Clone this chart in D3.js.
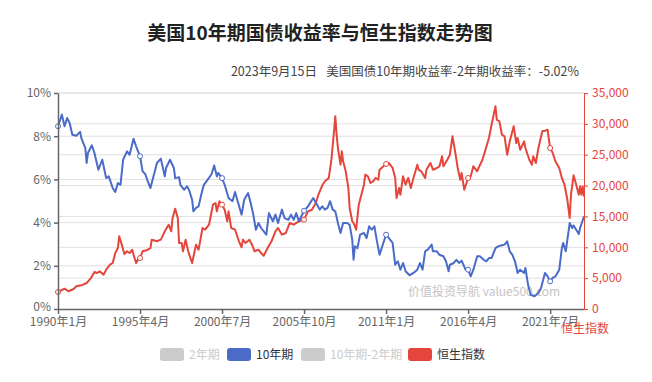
<!DOCTYPE html>
<meta charset="utf-8">
<head>
  <title>美国10年期国债收益率与恒生指数走势图</title>
  <script src="https://cdn.jsdelivr.net/npm/d3@7"></script>
  <style>
    body {
      margin: 0;
      background: #fff;
      font-family: "Noto Sans CJK SC", "Noto Sans", sans-serif;
    }
    .grid line { stroke: #e0e0e0; stroke-width: 1; }
    .axis text { font-size: 12px; font-family: "Noto Sans CJK SC", sans-serif; }
  </style>
</head>
<body>
<script>
  // x axis tick labels (every 63 months)
  var tickLabels = ["1990年1月", "1995年4月", "2000年7月", "2005年10月", "2011年1月", "2016年4月", "2021年7月"];

  // US 10y treasury yield (%)
  var tnxDates = ["1990-01","1990-04","1990-06","1990-08","1990-10","1990-12","1991-03","1991-06","1991-07","1991-10",
    "1991-11","1991-12","1992-03","1992-05","1992-08","1992-11","1993-02","1993-04","1993-07","1993-09",
    "1993-11","1994-01","1994-03","1994-06","1994-08","1994-11","1995-01","1995-04","1995-06","1995-08",
    "1995-10","1995-12","1996-02","1996-05","1996-08","1996-11","1996-12","1997-03","1997-06","1997-07",
    "1997-10","1997-11","1998-02","1998-04","1998-05","1998-06","1998-08","1998-09","1998-11","1999-01",
    "1999-03","1999-05","1999-08","1999-11","2000-01","2000-03","2000-04","2000-07","2000-09","2000-12",
    "2001-03","2001-05","2001-07","2001-10","2001-12","2002-03","2002-05","2002-07","2002-09","2002-11",
    "2003-01","2003-05","2003-07","2003-10","2003-12","2004-02","2004-05","2004-07","2004-10","2004-12",
    "2005-02","2005-04","2005-06","2005-10","2006-01","2006-05","2006-08","2006-10","2006-12","2007-02",
    "2007-04","2007-06","2007-08","2007-10","2007-12","2008-02","2008-04","2008-07","2008-09","2008-11",
    "2008-12","2009-01","2009-03","2009-05","2009-08","2009-10","2009-12","2010-02","2010-04","2010-06",
    "2010-08","2010-10","2011-01","2011-03","2011-06","2011-08","2011-10","2011-12","2012-02","2012-04",
    "2012-07","2012-10","2013-01","2013-03","2013-05","2013-07","2013-09","2013-12","2014-01","2014-04",
    "2014-06","2014-09","2014-11","2015-01","2015-02","2015-05","2015-07","2015-09","2015-11","2016-02",
    "2016-04","2016-06","2016-08","2016-11","2017-01","2017-04","2017-06","2017-08","2017-10","2018-01",
    "2018-03","2018-06","2018-08","2018-10","2018-12","2019-02","2019-04","2019-06","2019-08","2019-11",
    "2019-12","2020-02","2020-04","2020-07","2020-10","2020-12","2021-03","2021-05","2021-07","2021-09",
    "2021-11","2022-02","2022-04","2022-05","2022-07","2022-10","2022-12","2023-01","2023-03","2023-05",
    "2023-06","2023-09"];
  var tnxValues = [8.46,9.0,8.46,8.84,8.6,8.07,8.02,8.2,7.9,7.45,
    6.76,7.22,7.58,7.22,6.45,6.91,6.06,6.14,5.6,5.42,
    5.83,5.75,6.91,7.3,7.14,7.88,7.53,7.07,6.37,6.25,
    5.91,5.6,6.06,6.76,6.96,6.14,6.53,6.91,6.53,6.06,
    6.1,5.75,5.52,5.68,5.6,5.45,5.06,4.52,4.68,4.75,
    5.29,5.75,5.99,6.25,6.65,6.14,6.3,6.06,5.75,5.14,
    4.99,5.42,4.99,4.37,5.06,5.37,4.91,4.37,3.67,3.98,
    3.75,3.44,4.44,4.06,4.37,3.98,4.6,4.21,4.13,4.37,
    4.13,4.44,4.06,4.55,4.75,5.14,4.83,4.6,4.75,4.6,
    4.68,4.99,4.6,4.52,3.98,3.52,3.98,3.98,3.9,3.21,
    2.28,2.9,2.82,3.44,3.52,3.29,3.83,3.67,3.83,3.13,
    2.51,2.9,3.44,3.29,3.06,2.05,2.21,1.82,2.13,1.75,
    1.56,1.67,1.82,2.13,1.82,2.67,2.75,2.98,2.67,2.67,
    2.51,2.44,2.21,1.75,2.05,2.13,2.28,2.13,2.24,1.82,
    1.82,1.51,1.82,2.44,2.44,2.28,2.21,2.36,2.36,2.82,
    2.9,2.95,2.98,3.13,2.67,2.51,2.21,1.67,1.82,1.67,
    1.9,1.13,0.66,0.59,0.74,0.97,1.67,1.51,1.28,1.44,
    1.51,1.82,2.82,3.06,2.67,3.98,3.75,3.87,3.67,3.47,
    3.75,4.29];

  // Hang Seng index
  var hsiDates = ["1990-01","1990-06","1990-09","1991-01","1991-03","1991-07","1991-11","1992-02","1992-05","1992-07",
    "1992-09","1992-12","1993-02","1993-05","1993-07","1993-09","1993-11","1993-12","1994-02","1994-04",
    "1994-06","1994-08","1994-10","1994-11","1995-01","1995-03","1995-04","1995-06","1995-09","1995-12",
    "1996-01","1996-05","1996-08","1996-11","1997-02","1997-04","1997-05","1997-07","1997-09","1997-10",
    "1997-12","1998-01","1998-03","1998-05","1998-08","1998-11","1999-01","1999-04","1999-06","1999-09",
    "1999-12","2000-02","2000-03","2000-05","2000-07","2000-09","2000-11","2000-12","2001-02","2001-05",
    "2001-08","2001-10","2001-11","2002-01","2002-04","2002-06","2002-08","2002-11","2003-01","2003-03",
    "2003-06","2003-09","2003-12","2004-02","2004-05","2004-08","2004-11","2005-02","2005-06","2005-10",
    "2006-01","2006-04","2006-07","2006-09","2006-12","2007-02","2007-05","2007-07","2007-09","2007-10",
    "2007-11","2007-12","2008-02","2008-03","2008-04","2008-06","2008-08","2008-09","2008-11","2008-12",
    "2009-02","2009-04","2009-06","2009-08","2009-09","2009-11","2010-01","2010-03","2010-05","2010-07",
    "2010-08","2010-11","2011-01","2011-03","2011-06","2011-08","2011-09","2011-11","2011-12","2012-02",
    "2012-04","2012-06","2012-08","2012-10","2013-01","2013-02","2013-04","2013-07","2013-08","2013-11",
    "2014-01","2014-04","2014-06","2014-08","2014-09","2014-12","2015-02","2015-04","2015-06","2015-08",
    "2015-10","2015-11","2016-01","2016-04","2016-06","2016-08","2016-11","2016-12","2017-03","2017-05",
    "2017-08","2017-10","2018-01","2018-02","2018-04","2018-06","2018-08","2018-10","2018-12","2019-02",
    "2019-03","2019-05","2019-06","2019-08","2019-11","2019-12","2020-03","2020-05","2020-06","2020-08",
    "2020-10","2021-01","2021-03","2021-05","2021-07","2021-09","2021-11","2022-02","2022-04","2022-06",
    "2022-08","2022-10","2022-11","2023-01","2023-03","2023-05","2023-06","2023-07","2023-08","2023-09"];
  var hsiValues = [2755,3290,2870,3240,3670,3840,4210,4910,6000,5830,
    6110,5560,6370,7180,7450,9070,9880,11780,10420,8910,
    9350,9070,9610,8800,7450,8260,8260,9350,9510,9880,
    11230,10970,11230,12590,13660,12590,14750,16250,14750,10700,
    10700,9350,11230,9350,7450,10420,9610,13130,12850,13660,
    16900,17180,15830,17450,16900,16090,14210,15830,13130,12850,
    10970,10000,11230,10700,11230,10420,9350,9610,9070,8640,
    9880,10970,12590,13130,12040,12320,13940,13660,14210,14470,
    15830,16090,17180,18520,20040,20690,21230,24190,28790,31220,
    28240,26090,23380,25550,23930,22310,19610,16370,14210,13940,
    12850,16900,18520,20140,21760,21500,20420,20690,21230,20950,
    22570,23120,23500,23660,22850,21230,17990,19610,18520,21500,
    20140,21230,19610,21230,23380,22570,22310,21230,22570,23660,
    22570,22850,23120,24740,23120,24190,25000,27980,25550,22850,
    20950,22040,19330,21230,21500,23120,22310,22850,24190,25550,
    27710,29860,32840,30680,30410,28240,27980,25000,27170,28790,
    29600,26900,27710,25810,27170,26090,24190,23380,24740,23660,
    26090,28790,28890,29050,26090,25280,23930,22850,21230,20140,
    17990,14750,18520,21670,20140,18520,19880,18520,19880,18200];

  var legendNames = ["2年期", "10年期", "10年期-2年期", "恒生指数"];
  var legendColors = ["#cccccc", "#4b6bc8", "#cccccc", "#e4463c"];
  var legendActive = [false, true, false, true];

  var blue = "#4b6bc8", red = "#e4463c";
  var width = 652, height = 382;

  // month index since 1990-01
  function monthIdx(s) {
    var p = s.split("-");
    return (+p[0] - 1990) * 12 + (+p[1] - 1);
  }

  var svg = d3.select("body").append("svg")
    .attr("width", width)
    .attr("height", height);

  var x = d3.scaleLinear().domain([0, 404]).range([58, 584]);
  var yL = d3.scaleLinear().domain([0, 10]).range([309, 93]);
  var yR = d3.scaleLinear().domain([0, 35000]).range([309, 93]);

  // Title
  svg.append("text")
    .attr("x", 320).attr("y", 40)
    .attr("text-anchor", "middle")
    .style("font-size", "19px").style("font-weight", "bold").style("fill", "#222")
    .text("美国10年期国债收益率与恒生指数走势图");

  svg.append("text")
    .attr("x", 317).attr("y", 76)
    .attr("text-anchor", "end")
    .style("font-size", "12.5px").style("fill", "#444")
    .text("2023年9月15日");
  svg.append("text")
    .attr("x", 579).attr("y", 76)
    .attr("text-anchor", "end")
    .style("font-size", "12.5px").style("fill", "#444")
    .text("美国国债10年期收益率-2年期收益率：-5.02%");

  // Gridlines for both axes
  var grid = svg.append("g").attr("class", "grid");
  grid.selectAll(".gl").data([2, 4, 6, 8, 10]).enter().append("line")
    .attr("x1", 58).attr("x2", 584)
    .attr("y1", function(d) { return yL(d); })
    .attr("y2", function(d) { return yL(d); });
  grid.selectAll(".gr").data(d3.range(5000, 35001, 5000)).enter().append("line")
    .attr("x1", 58).attr("x2", 584)
    .attr("y1", function(d) { return yR(d); })
    .attr("y2", function(d) { return yR(d); });

  // Watermark
  svg.append("text")
    .attr("x", 408).attr("y", 296)
    .style("font-size", "12px").style("fill", "#c4c4c4")
    .text("价值投资导航 value500.com");

  // Lines
  var tnx = tnxDates.map(function(d, i) { return [monthIdx(d), tnxValues[i]]; });
  var hsi = hsiDates.map(function(d, i) { return [monthIdx(d), hsiValues[i]]; });

  var lineL = d3.line().x(function(d) { return x(d[0]); }).y(function(d) { return yL(d[1]); });
  var lineR = d3.line().x(function(d) { return x(d[0]); }).y(function(d) { return yR(d[1]); });

  svg.append("path").datum(hsi)
    .attr("d", lineR)
    .attr("fill", "none").attr("stroke", red).attr("stroke-width", 2)
    .attr("stroke-linejoin", "round");
  svg.append("path").datum(tnx)
    .attr("d", lineL)
    .attr("fill", "none").attr("stroke", blue).attr("stroke-width", 2)
    .attr("stroke-linejoin", "round");

  // Hollow markers at labelled months
  var markIdx = [0, 63, 126, 189, 252, 315, 378];
  svg.selectAll(".mt").data(tnx.filter(function(d) { return markIdx.indexOf(d[0]) >= 0; }))
    .enter().append("circle")
    .attr("cx", function(d) { return x(d[0]); })
    .attr("cy", function(d) { return yL(d[1]); })
    .attr("r", 2.5).attr("fill", "#fff").attr("stroke", blue).attr("stroke-width", 1);
  svg.selectAll(".mh").data(hsi.filter(function(d) { return markIdx.indexOf(d[0]) >= 0; }))
    .enter().append("circle")
    .attr("cx", function(d) { return x(d[0]); })
    .attr("cy", function(d) { return yR(d[1]); })
    .attr("r", 2.5).attr("fill", "#fff").attr("stroke", red).attr("stroke-width", 1);

  // Left axis
  var axL = svg.append("g").attr("class", "axis")
    .attr("transform", "translate(58,0)")
    .call(d3.axisLeft(yL).tickValues([0, 2, 4, 6, 8, 10])
      .tickFormat(function(d) { return d + "%"; }).tickSize(4).tickSizeOuter(0).tickPadding(3));
  axL.selectAll("path, line").attr("stroke", "#666").attr("stroke-width", 1.5);
  axL.selectAll("text").style("fill", "#666");
  axL.selectAll("text").filter(function(d) { return d === 0; }).attr("dy", "0.1em");

  // Bottom axis
  var axB = svg.append("g").attr("class", "axis")
    .attr("transform", "translate(0,309)")
    .call(d3.axisBottom(x).tickValues(markIdx)
      .tickFormat(function(d, i) { return tickLabels[i]; }).tickSize(5).tickSizeOuter(0).tickPadding(3));
  axB.selectAll("path, line").attr("stroke", "#666").attr("stroke-width", 1.5);
  axB.selectAll("text").style("fill", "#666");

  // Right axis
  var axR = svg.append("g").attr("class", "axis")
    .attr("transform", "translate(584,0)")
    .call(d3.axisRight(yR).tickValues(d3.range(0, 35001, 5000))
      .tickFormat(d3.format(",")).tickSize(4).tickSizeOuter(0).tickPadding(4));
  axR.selectAll("path, line").attr("stroke", red).attr("stroke-width", 1);
  axR.selectAll("text").style("fill", red);

  svg.append("text")
    .attr("x", 585).attr("y", 333)
    .attr("text-anchor", "middle")
    .style("font-size", "12px").style("fill", red)
    .text("恒生指数");

  // Legend
  var legendX = [160, 227, 301, 408];
  var lg = svg.append("g");
  legendNames.forEach(function(name, i) {
    lg.append("rect")
      .attr("x", legendX[i]).attr("y", 348)
      .attr("width", 24).attr("height", 13).attr("rx", 3)
      .attr("fill", legendColors[i]);
    lg.append("text")
      .attr("x", legendX[i] + 29).attr("y", 359)
      .style("font-size", "12px")
      .style("fill", legendActive[i] ? "#333" : "#ccc")
      .text(name);
  });
</script>
</body>
</html>
